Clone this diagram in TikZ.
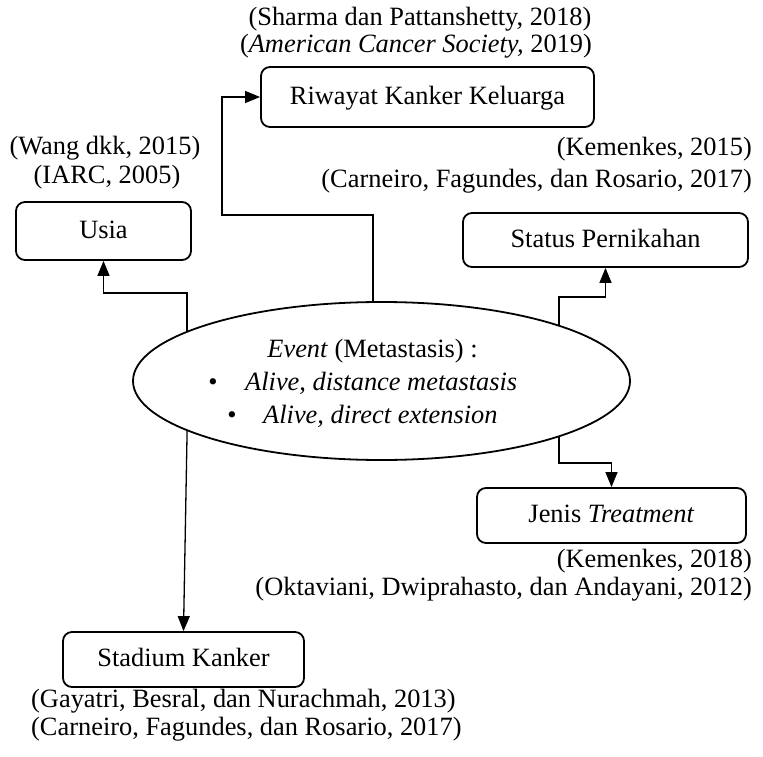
\documentclass[tikz,border=0pt]{standalone}
\usepackage{fontspec}
\setmainfont{Liberation Serif}
\usetikzlibrary{shapes.geometric,arrows.meta,backgrounds}
\newcommand\mainsz{\fontsize{26.4pt}{30pt}\selectfont}
\tikzset{
  box/.style={draw, line width=1.8pt, rounded corners=9pt, inner sep=0pt,
    text height=19.5pt, text depth=5pt, font=\mainsz},
  lbl/.style={inner sep=0pt, font=\mainsz},
  conn/.style={line width=1.3pt, -{Triangle[length=15pt,width=12pt]}},
  plain/.style={line width=1.3pt}
}
\begin{document}
\begin{tikzpicture}[x=1pt,y=1pt]
\useasboundingbox (0,0) rectangle (763,-757);

% ellipse
\node[ellipse, draw, line width=1.8pt, fill=white, minimum width=497pt, minimum height=158pt, inner sep=0pt] (ev) at (381.5,-381) {};
\node[lbl, anchor=base] (evt) at (372.5,-357) {\textit{Event} (Metastasis) :};
\node[lbl, anchor=base] (b1) at (213,-390) {•};
\node[lbl, anchor=base west] (a1) at (245,-390) {\textit{Alive, distance metastasis}};
\node[lbl, anchor=base] (b2) at (232,-423) {•};
\node[lbl, anchor=base west] (a2) at (263,-423) {\textit{Alive, direct extension}};

% boxes
\node[box, minimum width=333pt, minimum height=60pt] (riw) at (427.5,-97) {Riwayat Kanker Keluarga};
\node[box, minimum width=175pt, minimum height=58pt] (usia) at (103.5,-231) {Usia};
\node[box, minimum width=285pt, minimum height=54pt] (stat) at (605.5,-240) {Status Pernikahan};
\node[box, minimum width=269pt, minimum height=55pt] (jen) at (611.5,-515.5) {Jenis \textit{Treatment}};
\node[box, minimum width=241pt, minimum height=55pt] (stad) at (183.5,-659.5) {Stadium Kanker};

% references
\node[lbl, anchor=base] (r1) at (420,-26) {(Sharma dan Pattanshetty, 2018)};
\node[lbl, anchor=base] (r2) at (416,-53) {(\textit{American Cancer Society,} 2019)};
\node[lbl, anchor=base] (r3) at (105,-155) {(Wang dkk, 2015)};
\node[lbl, anchor=base] (r4) at (107,-183) {(IARC, 2005)};
\node[lbl, anchor=base east] (r5) at (752,-156) {(Kemenkes, 2015)};
\node[lbl, anchor=base east] (r6) at (752,-187) {(Carneiro, Fagundes, dan Rosario, 2017)};
\node[lbl, anchor=base east] (r7) at (752,-567) {(Kemenkes, 2018)};
\node[lbl, anchor=base east] (r8) at (752,-595) {(Oktaviani, Dwiprahasto, dan Andayani, 2012)};
\node[lbl, anchor=base west] (r9) at (31,-707) {(Gayatri, Besral, dan Nurachmah, 2013)};
\node[lbl, anchor=base west] (r10) at (31,-735) {(Carneiro, Fagundes, dan Rosario, 2017)};

% connector turning points
\coordinate (ku) at (187,-293);
\coordinate (kr1) at (373,-215);
\coordinate (kr2) at (222,-215);
\coordinate (ks) at (559,-297);
\coordinate (kj) at (559,-463);
\coordinate (kst) at (188,-381);

\begin{pgfonlayer}{background}
\draw[conn] (ev.center -| ku) -- (ku) -| (usia.south);
\draw[conn] (ev.center -| kr1) -- (kr1) -- (kr2) |- (riw.west);
\draw[conn] (ev.center -| ks) -- (ks) -| (stat.south);
\draw[conn] (ev.center -| kj) -- (kj) -| (jen.north);
\draw[conn] (kst) -- (stad.north);
\end{pgfonlayer}
\end{tikzpicture}
\end{document}
